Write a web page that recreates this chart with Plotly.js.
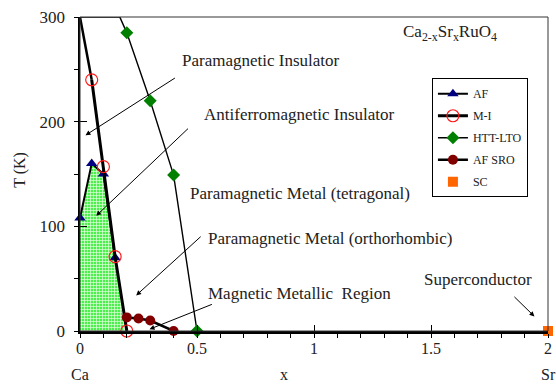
<!DOCTYPE html>
<html>
<head>
<meta charset="utf-8">
<script src="https://cdn.plot.ly/plotly-3.0.1.min.js"></script>
<style>html,body{margin:0;padding:0;background:#fff;}#chart{width:556px;height:388px;}</style>
</head>
<body>
<div id="chart"></div>
<script>
// ---- data ----
const afX = [0, 0.05, 0.1, 0.15];
const afT = [108, 160, 150, 70];
const miX = [0.05, 0.1, 0.15, 0.2];
const miT = [240, 157, 71, 0];
const httX = [0.2, 0.3, 0.4, 0.5];
const httT = [285, 220, 149, 0];
const sroX = [0.2, 0.25, 0.3, 0.4];
const sroT = [13, 12, 10, 0];
const scX = [2];
const scT = [0];
// phase boundary continuations (no markers)
const miBoundX = [0, 0.05];
const miBoundT = [300, 240];
const httBoundX = [0, 0.17, 0.2];
const httBoundT = [300, 300, 285];
// antiferromagnetic insulator region outline
const afRegionX = [0, 0, 0.05, 0.1, 0.15, 0.19];
const afRegionT = [0, 108, 160, 150, 70, 0];
// axis ticks
const xTickVals = [0, 0.5, 1, 1.5, 2];
const xTickText = ['0', '0.5', '1', '1.5', '2'];
const yTickVals = [0, 100, 200, 300];

const FONT = 'Liberation Serif, Times New Roman, serif';
const TXT = '#222';

const traces = [
  {x: afRegionX, y: afRegionT, mode: 'none', fill: 'toself', showlegend: false, hoverinfo: 'skip',
   fillcolor: 'rgba(90,235,90,0.6)',
   fillpattern: {shape: '+', fgcolor: '#e4ffe0', bgcolor: '#4cf04c', size: 3, solidity: 0.4}},
  {x: miBoundX, y: miBoundT, mode: 'lines', line: {color: '#000', width: 2.5}, showlegend: false, cliponaxis: false},
  {x: httBoundX, y: httBoundT, mode: 'lines', line: {color: '#000', width: 1.5}, showlegend: false, cliponaxis: false},
  {x: afX, y: afT, name: 'AF', mode: 'lines+markers', line: {color: '#000', width: 2},
   marker: {symbol: 'triangle-up', size: 10, color: '#000080'}, cliponaxis: false, legendgroup: 'a'},
  {x: miX, y: miT, name: 'M-I', mode: 'lines+markers', line: {color: '#000', width: 3},
   marker: {symbol: 'circle-open', size: 12, color: '#ff1a1a', line: {width: 1.2}}, cliponaxis: false, legendgroup: 'b'},
  {x: httX, y: httT, name: 'HTT-LTO', mode: 'lines+markers', line: {color: '#000', width: 1.4},
   marker: {symbol: 'diamond', size: 10, color: '#008000'}, cliponaxis: false, legendgroup: 'c'},
  {x: sroX, y: sroT, name: 'AF SRO', mode: 'lines+markers', line: {color: '#000', width: 2.5},
   marker: {symbol: 'circle', size: 10, color: '#800000'}, cliponaxis: false, legendgroup: 'd'},
  {x: scX, y: scT, name: 'SC', mode: 'markers', xaxis: 'x2', yaxis: 'y2',
   marker: {symbol: 'square', size: 10, color: '#ff6600'}, cliponaxis: false, legendgroup: 'e'}
];

function lbl(text, x, y) {
  return {text: text, x: x, y: y, xref: 'x', yref: 'y', xanchor: 'left', yanchor: 'middle',
          showarrow: false, font: {family: FONT, size: 17, color: TXT}};
}
function arrow(hx, hy, tx, ty) {
  return {text: '', x: hx, y: hy, ax: tx, ay: ty, xref: 'x', yref: 'y', axref: 'x', ayref: 'y',
          showarrow: true, arrowhead: 2, arrowsize: 1, arrowwidth: 1, arrowcolor: '#000'};
}

const annotations = [
  lbl('Paramagnetic Insulator', 0.428, 258),
  lbl('Antiferromagnetic Insulator', 0.52, 207),
  lbl('Paramagnetic Metal (tetragonal)', 0.46, 131.5),
  lbl('Paramagnetic Metal (orthorhombic)', 0.539, 88.5),
  lbl('Magnetic Metallic&nbsp;&nbsp;Region', 0.539, 36),
  lbl('Superconductor', 1.462, 49),
  arrow(0.0235, 187, 0.412, 242.6),
  arrow(0.069, 110, 0.468, 194.7),
  arrow(0.24, 34, 0.522, 91.4),
  arrow(0.297, 1.7, 0.57, 26),
  arrow(1.942, 13.9, 1.85, 34),
  {text: 'Ca<sub>2-x</sub>Sr<sub>x</sub>RuO<sub>4</sub>', x: 1.583, y: 285, xref: 'x', yref: 'y',
   xanchor: 'center', yanchor: 'middle', showarrow: false, font: {family: FONT, size: 17, color: TXT}},
  {text: 'Ca', x: 0, y: -0.137, xref: 'x', yref: 'paper', xanchor: 'center', yanchor: 'middle',
   showarrow: false, font: {family: FONT, size: 16, color: TXT}},
  {text: 'Sr', x: 2, y: -0.137, xref: 'x', yref: 'paper', xanchor: 'center', yanchor: 'middle',
   showarrow: false, font: {family: FONT, size: 16, color: TXT}},
  {text: 'x', x: 0.871, y: -0.137, xref: 'x', yref: 'paper', xanchor: 'center', yanchor: 'middle',
   showarrow: false, font: {family: FONT, size: 16, color: TXT}},
  {text: 'T (K)', x: -0.127, y: 0.512, xref: 'paper', yref: 'paper', xanchor: 'center', yanchor: 'middle',
   textangle: -90, showarrow: false, font: {family: FONT, size: 16, color: TXT}}
];

const layout = {
  width: 556, height: 388,
  margin: {l: 80, r: 8, t: 17, b: 57, pad: 0},
  paper_bgcolor: '#fff', plot_bgcolor: '#fff',
  font: {family: FONT, color: TXT},
  showlegend: true,
  legend: {x: 0.752, y: 0.805, xanchor: 'left', yanchor: 'top', bgcolor: '#fff',
           bordercolor: '#000', borderwidth: 1, font: {family: FONT, size: 12, color: TXT},
           traceorder: 'grouped', tracegroupgap: 3},
  xaxis: {range: [0, 2], tickmode: 'array', tickvals: xTickVals, ticktext: xTickText,
          ticks: 'outside', ticklen: 4, tickwidth: 1, tickcolor: '#000',
          minor: {dtick: 0.1, ticks: 'outside', ticklen: 4, tickwidth: 1, tickcolor: '#000'},
          showline: true, linewidth: 2.5, linecolor: '#000', showgrid: false, zeroline: false,
          ticklabelstandoff: -3, tickfont: {family: FONT, size: 16, color: TXT}},
  yaxis: {range: [0, 300], tickmode: 'array', tickvals: yTickVals,
          ticks: 'outside', ticklen: 4, tickwidth: 1, tickcolor: '#000',
          minor: {dtick: 50, ticks: 'outside', ticklen: 4, tickwidth: 1, tickcolor: '#000'},
          showline: true, linewidth: 2.5, linecolor: '#000', showgrid: false, zeroline: false,
          ticklabelstandoff: 5, tickfont: {family: FONT, size: 17, color: TXT}},
  xaxis2: {range: [0, 2], overlaying: 'x', anchor: 'y2', side: 'bottom', tickmode: 'array', tickvals: xTickVals,
           ticks: 'inside', ticklen: 6, tickwidth: 1, tickcolor: '#000', showticklabels: false,
           showline: false, showgrid: false, zeroline: false},
  yaxis2: {range: [0, 300], overlaying: 'y', anchor: 'x2', side: 'left', tickmode: 'array', tickvals: yTickVals,
           ticks: 'inside', ticklen: 7, tickwidth: 1, tickcolor: '#000', showticklabels: false,
           showline: false, showgrid: false, zeroline: false},
  shapes: [{type: 'rect', xref: 'paper', yref: 'paper', x0: 0, x1: 1, y0: 0, y1: 1,
            line: {color: '#333', width: 1}, layer: 'above'}],
  annotations: annotations
};

Plotly.newPlot('chart', traces, layout, {displayModeBar: false, staticPlot: true});
</script>
</body>
</html>
